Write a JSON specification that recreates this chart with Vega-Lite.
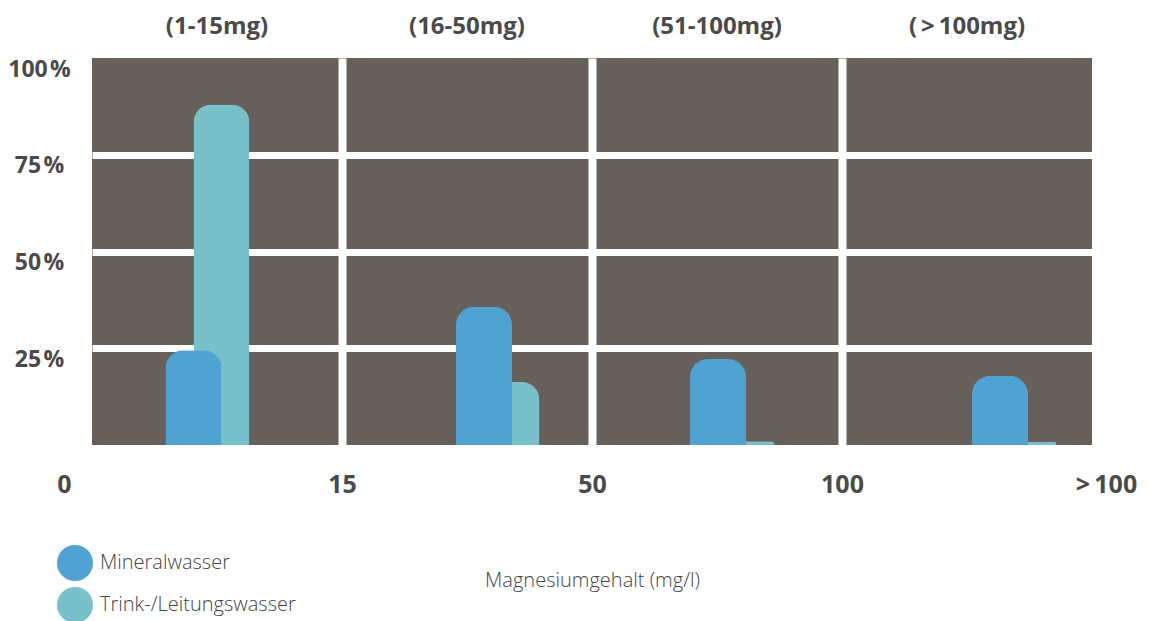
{
  "$schema": "https://vega.github.io/schema/vega-lite/v6.json",
  "width": 1000,
  "height": 387,
  "autosize": {"type": "none"},
  "padding": {"left": 92, "top": 58, "right": 58, "bottom": 176},
  "background": "white",
  "config": {
    "view": {"fill": "#675f5a", "stroke": null},
    "font": "Open Sans"
  },
  "datasets": {
    "bars": [
      {"gruppe": "(1-15mg)", "series": "Mineralwasser", "pos": 0.406, "anteil": 0.245},
      {"gruppe": "(1-15mg)", "series": "Trink-/Leitungswasser", "pos": 0.518, "anteil": 0.88},
      {"gruppe": "(16-50mg)", "series": "Mineralwasser", "pos": 1.568, "anteil": 0.357},
      {"gruppe": "(16-50mg)", "series": "Trink-/Leitungswasser", "pos": 1.678, "anteil": 0.163},
      {"gruppe": "(51-100mg)", "series": "Mineralwasser", "pos": 2.504, "anteil": 0.222},
      {"gruppe": "(51-100mg)", "series": "Trink-/Leitungswasser", "pos": 2.616, "anteil": 0.01},
      {"gruppe": "(>100mg)", "series": "Mineralwasser", "pos": 3.632, "anteil": 0.178},
      {"gruppe": "(>100mg)", "series": "Trink-/Leitungswasser", "pos": 3.744, "anteil": 0.008}
    ],
    "headers": [
      {"header": "(1-15mg)", "center": 0.5},
      {"header": "(16-50mg)", "center": 1.5},
      {"header": "(51-100mg)", "center": 2.5},
      {"header": "(\u2009>\u2009100mg)", "center": 3.5}
    ]
  },
  "layer": [
    {
      "data": {"name": "bars"},
      "transform": [{"filter": "datum.series == 'Trink-/Leitungswasser'"}],
      "mark": {"type": "bar", "width": 56, "cornerRadiusTopLeft": 18, "cornerRadiusTopRight": 18},
      "encoding": {
        "x": {
          "field": "pos", "type": "quantitative",
          "scale": {"domain": [0, 4], "nice": false, "zero": false, "padding": 0},
          "axis": {
            "values": [0, 1, 2, 3, 4],
            "labelExpr": "['0','15','50','100','>\u2009100'][datum.value]",
            "labelFlush": false,
            "labelOverlap": false,
            "labelFont": "Open Sans",
            "labelFontWeight": "bold",
            "labelFontSize": 25,
            "labelColor": "#4a4a4a",
            "labelPadding": 27,
            "labelBaseline": "top",
            "labelOffset": {"condition": [{"test": "datum.value == 0", "value": -28}, {"test": "datum.value == 4", "value": 14}], "value": 0},
            "ticks": false,
            "domain": false,
            "grid": true,
            "gridColor": "white",
            "gridWidth": 8,
            "gridOpacity": {"condition": {"test": "datum.value == 0 || datum.value == 4", "value": 0}, "value": 1},
            "title": "Magnesiumgehalt (mg/l)",
            "titleFont": "Open Sans",
            "titleFontWeight": 300,
            "titleFontSize": 20,
            "titleColor": "#444444",
            "titlePadding": 73
          }
        },
        "y": {
          "field": "anteil", "type": "quantitative",
          "scale": {"domain": [0, 1], "nice": false, "padding": 0},
          "axis": {
            "values": [0.25, 0.5, 0.75, 1],
            "labelExpr": "format(datum.value * 100, 'd') + '\u200a%'",
            "labelFont": "Open Sans",
            "labelFontWeight": "bold",
            "labelFontSize": 23,
            "labelColor": "#4a4a4a",
            "labelAlign": "center",
            "labelPadding": 53,
            "labelOffset": 11,
            "labelOverlap": false,
            "labelFlush": false,
            "ticks": false,
            "domain": false,
            "grid": true,
            "gridColor": "white",
            "gridWidth": 7,
            "gridOpacity": {"condition": {"test": "datum.value == 1", "value": 0}, "value": 1},
            "title": null
          }
        },
        "color": {
          "field": "series", "type": "nominal",
          "scale": {"domain": ["Mineralwasser", "Trink-/Leitungswasser"], "range": ["#50a2d2", "#78c0ca"]},
          "legend": {
            "orient": "none",
            "legendX": -35,
            "legendY": 487,
            "title": null,
            "symbolType": "circle",
            "symbolSize": 1296,
            "symbolStrokeWidth": 0,
            "symbolOpacity": 1,
            "labelFont": "Open Sans",
            "labelFontWeight": 300,
            "labelFontSize": 20,
            "labelColor": "#444444",
            "labelOffset": 7,
            "labelLimit": 0,
            "rowPadding": 6
          }
        }
      }
    },
    {
      "data": {"name": "bars"},
      "transform": [{"filter": "datum.series == 'Mineralwasser'"}],
      "mark": {"type": "bar", "width": 56, "cornerRadiusTopLeft": 18, "cornerRadiusTopRight": 18},
      "encoding": {
        "x": {"field": "pos", "type": "quantitative"},
        "y": {"field": "anteil", "type": "quantitative"},
        "color": {"field": "series", "type": "nominal"}
      }
    },
    {
      "data": {"name": "headers"},
      "mark": {"type": "text", "font": "Open Sans", "fontWeight": "bold", "fontSize": 24, "color": "#4a4a4a", "baseline": "middle", "align": "center", "dy": -31},
      "encoding": {
        "x": {"field": "center", "type": "quantitative"},
        "y": {"datum": 1},
        "text": {"field": "header"}
      }
    }
  ]
}
